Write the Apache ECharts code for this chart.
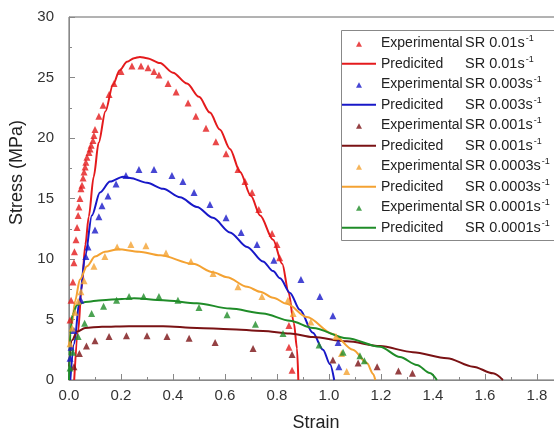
<!DOCTYPE html>
<html><head><meta charset="utf-8">
<script src="https://cdn.jsdelivr.net/npm/echarts@6/dist/echarts.min.js"></script>
<style>html,body{margin:0;padding:0;background:#fff}#c{width:554px;height:431px}</style>
</head><body><div id="c"></div>
<script>
const strainRates = ['0.01', '0.003', '0.001', '0.0003', '0.0001'];
const colors = ['#e41a1c', '#1818c8', '#7a1214', '#f4a232', '#1f8c28'];

// Experimental data [strain, stress]
const exp001 = [[0.004,4.96],[0.008,6.6],[0.015,8.1],[0.019,9.7],[0.021,10.6],[0.027,11.6],[0.031,12.6],[0.035,13.6],[0.038,14.3],[0.042,15.0],[0.046,15.8],[0.05,16.1],[0.054,16.7],[0.058,17.2],[0.062,17.6],[0.065,18.0],[0.069,18.4],[0.077,18.8],[0.081,19.1],[0.085,19.4],[0.092,19.8],[0.096,20.2],[0.1,20.7],[0.115,21.8],[0.131,22.7],[0.154,23.6],[0.173,24.5],[0.2,25.5],[0.242,25.95],[0.277,25.95],[0.304,25.8],[0.327,25.5],[0.346,25.2],[0.381,24.5],[0.412,23.8],[0.458,22.9],[0.488,21.8],[0.527,20.8],[0.565,19.7],[0.604,18.7],[0.65,17.4],[0.677,16.4],[0.704,15.5],[0.73,14.1],[0.781,12.1],[0.8,11.2],[0.81,10.1],[0.846,4.5],[0.846,2.7],[0.858,0.8]];
const exp0003 = [[0.004,1.8],[0.008,2.7],[0.019,4.1],[0.046,6.6],[0.065,10.2],[0.073,11.0],[0.1,12.4],[0.115,13.5],[0.127,14.4],[0.15,15.2],[0.181,16.2],[0.219,16.9],[0.269,17.4],[0.327,17.4],[0.396,16.9],[0.438,16.4],[0.481,15.5],[0.542,14.5],[0.604,13.4],[0.662,12.2],[0.723,11.2],[0.788,9.9],[0.892,8.3],[0.965,6.9],[1.015,5.3],[1.035,3.1],[1.038,1.1]];
const exp0001 = [[0.019,1.1],[0.04,2.2],[0.067,2.8],[0.1,3.25],[0.154,3.6],[0.221,3.65],[0.3,3.65],[0.377,3.6],[0.462,3.45],[0.562,3.1],[0.708,2.6],[0.858,2.1],[1.015,1.65],[1.112,1.4],[1.185,1.1],[1.267,0.75],[1.321,0.55]];
const exp00003 = [[0.004,3.0],[0.012,4.3],[0.023,5.6],[0.035,6.5],[0.046,7.3],[0.058,8.2],[0.096,9.4],[0.138,10.2],[0.185,11.0],[0.238,11.2],[0.296,11.1],[0.373,10.5],[0.469,9.8],[0.554,8.8],[0.65,7.7],[0.742,6.9],[0.842,6.6],[0.862,5.5],[0.93,4.8],[1.027,3.6],[1.048,2.2],[1.068,0.7]];
const exp00001 = [[0.004,1.0],[0.015,2.3],[0.035,3.6],[0.06,4.7],[0.087,5.5],[0.133,6.1],[0.183,6.6],[0.231,6.9],[0.287,6.9],[0.346,6.9],[0.419,6.6],[0.5,6.0],[0.608,5.4],[0.717,4.6],[0.823,3.85],[0.962,2.9],[1.054,2.3],[1.119,2.0],[1.136,1.6]];

// Predicted curves [strain, stress]
const pred001 = [[0.02,0],[0.035,4.0],[0.048,7.5],[0.063,11.2],[0.076,13.5],[0.095,16.8],[0.114,19.6],[0.14,22.2],[0.169,24.4],[0.195,25.6],[0.223,26.3],[0.25,26.6],[0.273,26.7],[0.3,26.6],[0.35,26.2],[0.4,25.4],[0.454,24.5],[0.5,23.4],[0.542,22.1],[0.58,20.7],[0.619,19.1],[0.658,17.2],[0.7,15.2],[0.735,13.6],[0.785,11.6],[0.82,9.6],[0.845,7.2],[0.865,4.7],[0.877,2.6],[0.882,0]];
const pred0003 = [[0.005,0],[0.02,3.0],[0.04,6.5],[0.062,10.2],[0.088,13.6],[0.119,15.5],[0.158,16.4],[0.208,16.8],[0.235,16.7],[0.3,16.3],[0.362,15.8],[0.427,15.1],[0.492,14.3],[0.554,13.4],[0.619,12.2],[0.685,11.0],[0.746,9.8],[0.785,9.0],[0.812,8.4],[0.85,7.2],[0.888,5.8],[0.938,3.9],[0.977,2.5],[1.004,1.3],[1.02,0]];
const pred0001 = [[0,1.1],[0.012,3.3],[0.031,4.0],[0.062,4.3],[0.127,4.4],[0.231,4.45],[0.362,4.45],[0.492,4.3],[0.619,4.2],[0.746,4.05],[0.85,3.85],[0.938,3.55],[1.069,3.2],[1.196,2.8],[1.323,2.3],[1.454,1.8],[1.554,1.1],[1.631,0.55],[1.669,0]];
const pred00003 = [[0,2.8],[0.012,4.7],[0.023,6.5],[0.042,8.3],[0.069,9.4],[0.1,10.2],[0.138,10.6],[0.19,10.8],[0.27,10.6],[0.35,10.3],[0.477,9.6],[0.554,8.9],[0.608,8.5],[0.685,7.7],[0.735,7.3],[0.785,6.8],[0.838,6.3],[0.915,5.2],[1.015,3.8],[1.092,2.5],[1.146,1.4],[1.17,0.5],[1.178,0]];
const pred00001 = [[0,0],[0.002,2.0],[0.005,3.8],[0.012,5.3],[0.031,6.2],[0.062,6.45],[0.127,6.6],[0.204,6.7],[0.25,6.75],[0.362,6.6],[0.492,6.35],[0.619,5.9],[0.746,5.5],[0.85,4.9],[0.938,4.3],[1.069,3.45],[1.196,2.75],[1.273,1.9],[1.338,1.24],[1.388,0.58],[1.415,0]];

const expSets = [exp001, exp0003, exp0001, exp00003, exp00001];
const predSets = [pred001, pred0003, pred0001, pred00003, pred00001];

const FONT = "'Liberation Sans', Arial, sans-serif";
const series = [];
const legendData = [];
const triIcon = 'path://M0,0M34,14M14,10.5L17,5L20,10.5Z';
const lineIcon = 'path://M0,0M34,14M0,6L34,6L34,8L0,8Z';
strainRates.forEach((sr, i) => {
  const en = 'Experimental SR ' + sr;
  const pn = 'Predicited SR ' + sr;
  series.push({
    name: en, type: 'scatter', data: expSets[i], symbol: 'triangle', symbolSize: 7,
    itemStyle: { color: colors[i] }, z: 2
  });
  series.push({
    name: pn, type: 'line', data: predSets[i], symbol: 'none', showSymbol: false,
    smooth: 0.3, smoothMonotone: 'x',
    lineStyle: { color: colors[i], width: 2 }, itemStyle: { color: colors[i] }, z: 2
  });
  legendData.push({ name: en, icon: triIcon });
  legendData.push({ name: pn, icon: lineIcon });
});

const chart = echarts.init(document.getElementById('c'));
chart.setOption({
  animation: false,
  backgroundColor: '#fff',
  grid: { left: 69, top: 17, right: -9, bottom: 51, show: true, borderColor: '#666', borderWidth: 1,
    backgroundColor: 'transparent', outerBoundsMode: 'none', containLabel: false },
  graphic: [{
    type: 'polyline', z: 3, silent: true,
    shape: { points: [[600, 30.5], [341.5, 30.5], [341.5, 240.5], [600, 240.5]] },
    style: { fill: '#fff', stroke: '#888', lineWidth: 1 }
  }],
  legend: {
    orient: 'vertical', left: 341, top: 30.7, z: 5,
    padding: [2.6, 0, 2.7, 1], borderWidth: 0, backgroundColor: 'transparent',
    itemWidth: 34, itemHeight: 14, itemGap: 0.5,
    data: legendData,
    formatter: function (name) {
      const parts = name.split(' SR ');
      return '{a|' + parts[0] + '}{b|SR ' + parts[1] + 's}{s|-1}';
    },
    textStyle: {
      fontFamily: FONT, fontSize: 14, color: '#222', lineHeight: 20,
      rich: {
        a: { width: 84, fontFamily: FONT, fontSize: 14, color: '#222', lineHeight: 20 },
        b: { fontFamily: FONT, fontSize: 14.5, color: '#222', lineHeight: 20 },
        s: { fontFamily: FONT, fontSize: 9, color: '#222', verticalAlign: 'top', padding: [1, 0, 0, 1] }
      }
    }
  },
  xAxis: {
    type: 'value', min: 0, max: 1.9, interval: 0.2,
    name: 'Strain', nameLocation: 'middle', nameGap: 34,
    nameTextStyle: { fontFamily: FONT, fontSize: 18, color: '#222' },
    axisLine: { show: true, onZero: false, lineStyle: { color: '#888', width: 1 } },
    axisTick: { show: true, inside: true, length: 6, lineStyle: { color: '#888' } },
    minorTick: { show: true, splitNumber: 2, length: 3, lineStyle: { color: '#888' } },
    axisLabel: { fontFamily: FONT, fontSize: 15, color: '#333', margin: 8, showMaxLabel: false,
      formatter: v => v.toFixed(1) },
    splitLine: { show: false }
  },
  yAxis: {
    type: 'value', min: 0, max: 30, interval: 5,
    name: 'Stress (MPa)', nameLocation: 'middle', nameGap: 34,
    nameTextStyle: { fontFamily: FONT, fontSize: 18, color: '#222', padding: [0, 0, 0, 52] },
    axisLine: { show: true, onZero: false, lineStyle: { color: '#888', width: 1 } },
    axisTick: { show: true, inside: true, length: 6, lineStyle: { color: '#888' } },
    minorTick: { show: true, splitNumber: 2, length: 3, lineStyle: { color: '#888' } },
    axisLabel: { fontFamily: FONT, fontSize: 15, color: '#333', margin: 15 },
    splitLine: { show: false }
  },
  series: series
});
</script>
</body></html>
